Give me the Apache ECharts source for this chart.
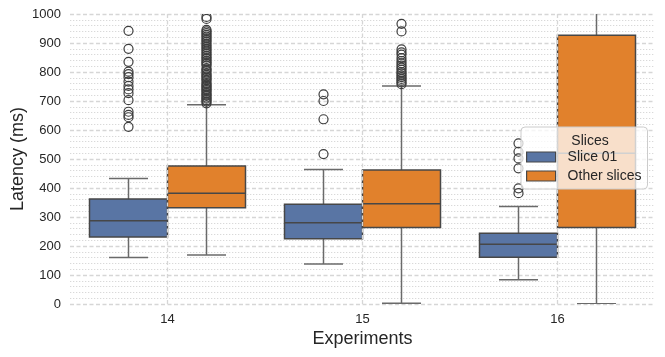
<!DOCTYPE html>
<html lang="en">
<head>
<meta charset="UTF-8">
<title>Latency per experiment</title>
<script src="https://cdn.jsdelivr.net/npm/echarts@6/dist/echarts.min.js"></script>
<style>
    html, body { margin: 0; padding: 0; background: #fff; }
</style>
</head>
<body>
<div id="main" style="width: 665px; height: 357px;"></div>
<script type="text/javascript">
    var experiments = ['14', '15', '16'];
    var seriesNames = ['Slice 01', 'Other slices'];
    var yTicks = [0, 100, 200, 300, 400, 500, 600, 700, 800, 900, 1000];

    // [lower whisker, Q1, median, Q3, upper whisker] per experiment
    var slice01Box = [
        [160, 231, 287, 362, 433],
        [138, 225, 280, 344, 464],
        [84, 161, 206, 244, 336]
    ];
    var otherBox = [
        [169, 332, 382, 476, 687],
        [3, 264, 346, 462, 752],
        [1, 264, 520, 927, 1100]
    ];

    // outliers per experiment
    var slice01Outliers = [
        [942, 880, 835, 801, 793, 782, 767, 752, 740, 727, 703, 663, 652, 644, 611],
        [723, 700, 637, 517],
        [554, 525, 502, 468, 399, 382]
    ];
    var otherOutliers = [
        [692, 698, 703, 708, 712, 718, 722, 727, 733, 738, 742, 748, 752, 757, 762, 770, 775,
         780, 785, 790, 795, 803, 808, 812, 822, 828, 833, 838, 845, 850, 856, 862, 868, 874,
         880, 886, 892, 898, 905, 910, 916, 922, 928, 934, 940, 945, 983, 990],
        [758, 764, 770, 776, 782, 788, 795, 800, 808, 815, 822, 830, 838, 848, 860, 868, 878, 940, 966],
        []
    ];

    var colors = ['#5975a4', '#e1812c'];
    var edge = '#474747';
    var whisker = '#6a6a6a';
    var font = '"Liberation Sans", Arial, sans-serif';

    function boxData(list) {
        return list.map(function (b, i) { return [i].concat(b); });
    }
    function outlierData(list) {
        var out = [];
        list.forEach(function (vals, i) {
            vals.forEach(function (v) { out.push([i, v]); });
        });
        return out;
    }

    function boxRenderer(shift) {
        return function (params, api) {
            var cat = api.value(0);
            var band = api.size([1, 0])[0];
            var w = band * 0.4;
            var cx = api.coord([cat, 0])[0] + shift * band;
            var y = function (i) { return api.coord([cat, api.value(i)])[1]; };
            var lo = y(1), q1 = y(2), med = y(3), q3 = y(4), hi = y(5);
            var ws = { stroke: whisker, lineWidth: 1.5 };
            return {
                type: 'group',
                children: [
                    { type: 'line', shape: { x1: cx, y1: q3, x2: cx, y2: hi }, style: ws },
                    { type: 'line', shape: { x1: cx, y1: q1, x2: cx, y2: lo }, style: ws },
                    { type: 'line', shape: { x1: cx - w / 4, y1: hi, x2: cx + w / 4, y2: hi }, style: ws },
                    { type: 'line', shape: { x1: cx - w / 4, y1: lo, x2: cx + w / 4, y2: lo }, style: ws },
                    { type: 'rect', shape: { x: cx - w / 2, y: q3, width: w, height: q1 - q3 },
                      style: { fill: api.visual('color'), stroke: edge, lineWidth: 1.5 } },
                    { type: 'line', shape: { x1: cx - w / 2, y1: med, x2: cx + w / 2, y2: med },
                      style: { stroke: edge, lineWidth: 1.5 } }
                ]
            };
        };
    }

    function outlierRenderer(shift) {
        return function (params, api) {
            var cat = api.value(0);
            var band = api.size([1, 0])[0];
            var p = api.coord([cat, api.value(1)]);
            return {
                type: 'circle',
                shape: { cx: p[0] + shift * band, cy: p[1], r: 4.5 },
                style: { fill: 'none', stroke: '#3d3d3d', lineWidth: 1.2 }
            };
        };
    }

    var chart = echarts.init(document.getElementById('main'));

    var option = {
        animation: false,
        textStyle: { fontFamily: font },
        title: {
            text: 'Slices',
            left: 585,
            top: 129,
            textAlign: 'center',
            textStyle: { fontSize: 14, fontWeight: 'normal', color: '#262626', fontFamily: font }
        },
        legend: {
            data: seriesNames,
            orient: 'vertical',
            left: 521,
            top: 127,
            padding: [23, 6, 6, 5],
            itemWidth: 29,
            itemHeight: 10,
            itemGap: 5,
            icon: 'rect',
            backgroundColor: 'rgba(255,255,255,0.75)',
            borderColor: '#cccccc',
            borderWidth: 1,
            borderRadius: 4,
            itemStyle: { borderColor: edge, borderWidth: 1.2 },
            textStyle: { fontSize: 14, color: '#262626', padding: [0, 0, 0, 7], fontFamily: font }
        },
        grid: { left: 70, right: 10, top: 14, bottom: 53, containLabel: false, outerBoundsMode: 'none' },
        xAxis: {
            type: 'category',
            data: experiments,
            name: 'Experiments',
            nameLocation: 'middle',
            nameGap: 26,
            nameMoveOverlap: false,
            nameTextStyle: { fontSize: 18, color: '#262626' },
            axisLine: { show: false },
            axisTick: { show: false },
            axisLabel: { fontSize: 13, color: '#262626', margin: 9 },
            splitLine: { show: false }
        },
        yAxis: {
            type: 'value',
            min: yTicks[0],
            max: yTicks[yTicks.length - 1],
            interval: yTicks[1] - yTicks[0],
            name: 'Latency (ms)',
            nameLocation: 'middle',
            nameGap: 43,
            nameMoveOverlap: false,
            nameTextStyle: { fontSize: 18, color: '#262626' },
            axisLine: { show: false },
            axisTick: { show: false },
            axisLabel: { fontSize: 13, color: '#262626', margin: 9, formatter: function (v) { return String(v); } },
            splitLine: { lineStyle: { color: '#d6d6d6', width: 1.3, type: [4, 2.5] } },
            minorTick: { show: false, splitNumber: 5 },
            minorSplitLine: { show: true, lineStyle: { color: '#d9d9d9', width: 1, type: [1.3, 1.7] } }
        },
        series: [
            {
                type: 'line',
                data: [],
                z: 1,
                silent: true,
                markLine: {
                    silent: true,
                    symbol: ['none', 'none'],
                    label: { show: false },
                    lineStyle: { color: '#d6d6d6', width: 1.3, type: [4, 2.5] },
                    data: experiments.map(function (e) { return { xAxis: e }; })
                }
            },
            {
                name: seriesNames[0],
                type: 'custom',
                clip: true,
                itemStyle: { color: colors[0] },
                encode: { x: 0, y: [1, 2, 3, 4, 5] },
                renderItem: boxRenderer(-0.2),
                data: boxData(slice01Box)
            },
            {
                name: seriesNames[1],
                type: 'custom',
                clip: true,
                itemStyle: { color: colors[1] },
                encode: { x: 0, y: [1, 2, 3, 4, 5] },
                renderItem: boxRenderer(0.2),
                data: boxData(otherBox)
            },
            {
                type: 'custom',
                clip: true,
                encode: { x: 0, y: 1 },
                renderItem: outlierRenderer(-0.2),
                data: outlierData(slice01Outliers)
            },
            {
                type: 'custom',
                clip: true,
                encode: { x: 0, y: 1 },
                renderItem: outlierRenderer(0.2),
                data: outlierData(otherOutliers)
            }
        ]
    };

    chart.setOption(option);
</script>
</body>
</html>
